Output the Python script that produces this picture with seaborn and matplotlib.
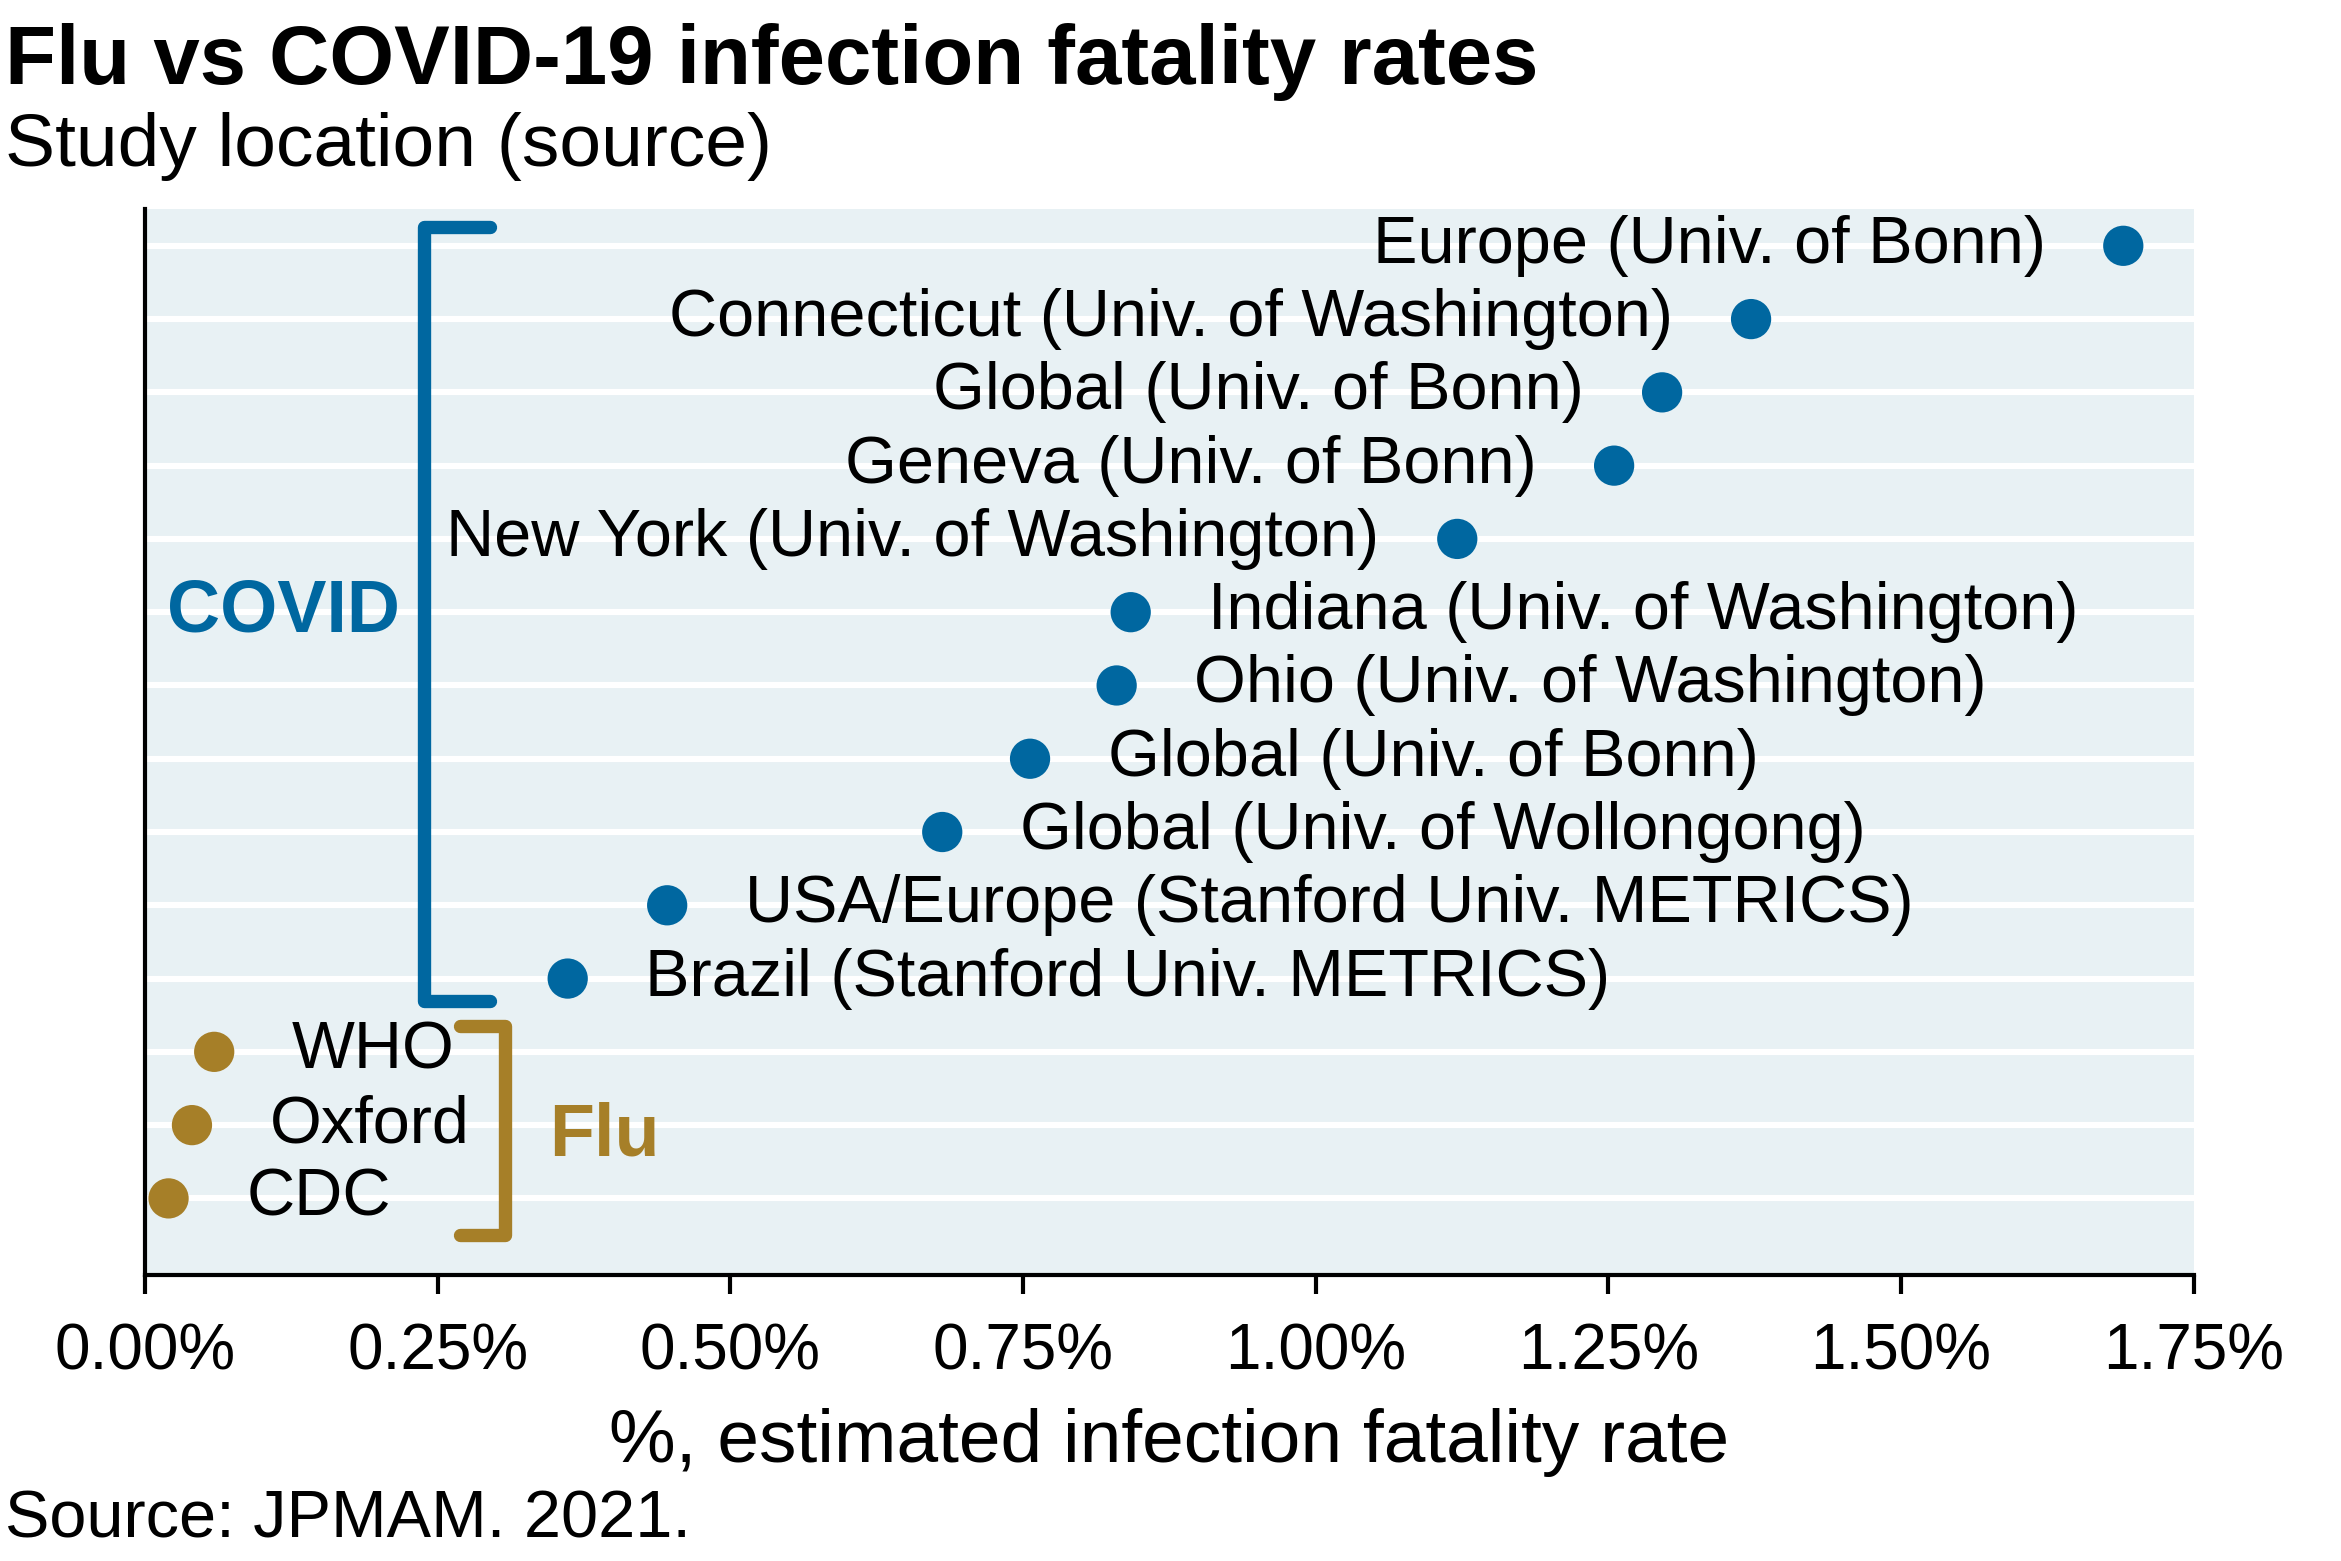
import pandas as pd
import matplotlib
matplotlib.use('Agg')
import matplotlib.pyplot as plt
import seaborn as sns

# data (top row first)
labels = ['Europe (Univ. of Bonn)', 'Connecticut (Univ. of Washington)',
          'Global (Univ. of Bonn)', 'Geneva (Univ. of Bonn)',
          'New York (Univ. of Washington)', 'Indiana (Univ. of Washington)',
          'Ohio (Univ. of Washington)', 'Global (Univ. of Bonn)',
          'Global (Univ. of Wollongong)', 'USA/Europe (Stanford Univ. METRICS)',
          'Brazil (Stanford Univ. METRICS)', 'WHO', 'Oxford', 'CDC']
ifr = [1.69, 1.372, 1.296, 1.255, 1.121, 0.842, 0.830, 0.756, 0.681,
       0.446, 0.361, 0.059, 0.040, 0.020]
group = ['COVID'] * 11 + ['Flu'] * 3
label_left = [True] * 5 + [False] * 9
xticks = [0.0, 0.25, 0.5, 0.75, 1.0, 1.25, 1.5, 1.75]

BLUE = '#0067A0'
GOLD = '#A67F28'
BG = '#E8F1F4'

df = pd.DataFrame({'label': labels, 'ifr': ifr, 'group': group,
                   'row': range(len(labels))})

sns.set_style('white', {'axes.facecolor': BG, 'text.color': 'black',
                        'xtick.color': 'black', 'axes.labelcolor': 'black'})
plt.rcParams['font.family'] = ['Liberation Sans', 'DejaVu Sans']

fig = plt.figure(figsize=(11.705, 7.805), dpi=200)
ax = fig.add_axes([0.062, 0.183, 0.875, 0.683])

# white row lines through every point
for r in df['row']:
    ax.axhline(r, color='white', lw=2.2, zorder=1)

sns.scatterplot(data=df, x='ifr', y='row', hue='group',
                palette={'COVID': BLUE, 'Flu': GOLD}, s=210,
                edgecolor='none', legend=False, ax=ax, zorder=3)

for _, d in df.iterrows():
    if label_left[d['row']]:
        ax.annotate(d['label'], (d['ifr'], d['row']), xytext=(-28, 0),
                    textcoords='offset points', ha='right', va='center',
                    fontsize=24)
    else:
        ax.annotate(d['label'], (d['ifr'], d['row']), xytext=(28, 0),
                    textcoords='offset points', ha='left', va='center',
                    fontsize=24)

# group brackets
ax.plot([0.295, 0.2385, 0.2385, 0.295], [-0.25, -0.25, 10.3, 10.3],
        color=BLUE, lw=4.8, solid_joinstyle='round', zorder=2)
ax.text(0.218, 5, 'COVID', color=BLUE, fontsize=26.5, fontweight='bold',
        ha='right', va='center')
ax.plot([0.269, 0.3074, 0.3074, 0.269], [10.65, 10.65, 13.5, 13.5],
        color=GOLD, lw=4.8, solid_joinstyle='round', zorder=2)
ax.text(0.345, 12.15, 'Flu', color=GOLD, fontsize=26.5, fontweight='bold',
        ha='left', va='center')

ax.set_xlim(0, 1.75)
ax.set_ylim(14.05, -0.5)
ax.set_xticks(xticks)
ax.set_xticklabels([f'{t:.2f}%' for t in xticks], fontsize=23)
ax.set_yticks([])
ax.set_ylabel('')
ax.set_xlabel('%, estimated infection fatality rate', fontsize=27,
              labelpad=9)
ax.tick_params(axis='x', length=7, width=1.5, pad=10, direction='out',
               bottom=True)
for side in ['top', 'right']:
    ax.spines[side].set_visible(False)
for side in ['left', 'bottom']:
    ax.spines[side].set_color('black')
    ax.spines[side].set_linewidth(1.5)

fig.text(0.002, 0.985, 'Flu vs COVID-19 infection fatality rates',
         fontsize=30, fontweight='bold', ha='left', va='top')
fig.text(0.002, 0.928, 'Study location (source)', fontsize=27,
         ha='left', va='top')
fig.text(0.002, 0.006, 'Source: JPMAM. 2021.', fontsize=24,
         ha='left', va='bottom')

fig.savefig('out.png', dpi=200)
